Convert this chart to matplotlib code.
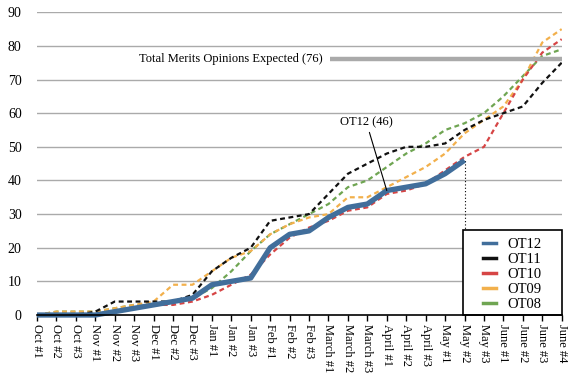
import matplotlib
matplotlib.use("Agg")
import matplotlib.pyplot as plt
from matplotlib.patches import Rectangle
from matplotlib.lines import Line2D

plt.rcParams['font.family'] = ['Liberation Serif', 'DejaVu Serif']

categories = ["Oct #1", "Oct #2", "Oct #3", "Nov #1", "Nov #2", "Nov #3",
              "Dec #1", "Dec #2", "Dec #3", "Jan #1", "Jan #2", "Jan #3",
              "Feb #1", "Feb #2", "Feb #3", "March #1", "March #2", "March #3",
              "April #1", "April #2", "April #3", "May #1", "May #2", "May #3",
              "June #1", "June #2", "June #3", "June #4"]

ot12 = [0, 0, 0, 0, 1, 2, 3, 4, 5, 9, 10, 11, 20, 24, 25, 29, 32, 33, 37, 38, 39, 42, 46]
ot11 = [0, 0, 0, 1, 4, 4, 4, 4, 6, 13, 17, 20, 28, 29, 30, 36, 42, 45, 48, 50, 50, 51, 55, 58, 60, 62, 69, 75]
ot10 = [0, 0, 0, 0, 1, 2, 3, 3, 4, 6, 9, 12, 18, 23, 26, 28, 31, 32, 36, 37, 39, 43, 47, 50, 60, 70, 78, 82]
ot09 = [0, 1, 1, 1, 2, 3, 4, 9, 9, 13, 17, 19, 24, 27, 29, 30, 35, 35, 38, 41, 44, 48, 54, 58, 62, 70, 81, 85]
ot08 = [0, 1, 1, 1, 2, 3, 3, 4, 5, 8, 13, 19, 24, 27, 30, 33, 38, 40, 44, 48, 51, 55, 57, 60, 65, 71, 77, 79]

series_names = ["OT12", "OT11", "OT10", "OT09", "OT08"]
colors = ["#416e9b", "#111111", "#d64545", "#f2b04c", "#6fa552"]

expected_total = 76
current_total = 46
y_ticks = [0, 10, 20, 30, 40, 50, 60, 70, 80, 90]

fig = plt.figure(figsize=(5.8, 3.9), dpi=100)
ax = fig.add_axes([0.0638, 0.1923, 0.9046, 0.7762])

x_all = list(range(len(categories)))

for ys in y_ticks[1:]:
    ax.axhline(ys, color="#aaaaaa", lw=1.0, zorder=1)

dash = (2.2, 1.6)
ax.plot(x_all, ot08, color=colors[4], lw=1.6, dashes=dash, zorder=2)
ax.plot(x_all, ot09, color=colors[3], lw=1.6, dashes=dash, zorder=2.1)
ax.plot(x_all, ot10, color=colors[2], lw=1.6, dashes=dash, zorder=2.2)
ax.plot(x_all, ot11, color=colors[1], lw=1.6, dashes=dash, zorder=2.3)
ax.plot(x_all[:len(ot12)], ot12, color=colors[0], lw=3.8, zorder=3,
        solid_joinstyle='round', solid_capstyle='butt', clip_on=False)

# expected total line
ax.plot([15.08, 27], [expected_total, expected_total], color="#aaaaaa", lw=3.2, zorder=2.5,
        solid_capstyle='butt')
ax.text(14.72, expected_total, "Total Merits Opinions Expected (%d)" % expected_total,
        ha="right", va="center", fontsize=9)

# dotted vertical at current point
last = len(ot12) - 1
ax.plot([last, last], [0, ot12[-1]], color="black", lw=0.8, ls=(0, (1, 2)), zorder=2.4)

ax.annotate("OT12 (%d)" % current_total, xy=(18, 37), xytext=(16.95, 57.3),
            ha="center", va="center", fontsize=9,
            arrowprops=dict(arrowstyle="-", color="black", lw=0.8, shrinkA=1, shrinkB=0))

ax.set_xlim(0, 27)
ax.set_ylim(0, 90)
ax.set_xticks(x_all)
ax.set_xticklabels(categories, rotation=-90, fontsize=9, va="top", ha="center")
ax.set_yticks(y_ticks)
ax.set_yticklabels([str(v) for v in y_ticks], fontsize=10)
ax.tick_params(axis="y", length=0, pad=11)
ax.tick_params(axis="x", length=4.5, width=1, direction="out", pad=2, color="black")
for s in ["top", "right", "left"]:
    ax.spines[s].set_visible(False)
ax.spines["bottom"].set_color("black")
ax.spines["bottom"].set_linewidth(1.2)
ax.spines["bottom"].set_zorder(6)

# legend box
rect = Rectangle((0.8125, 0.0), 0.1875, 0.281, transform=ax.transAxes,
                 facecolor="white", edgecolor="black", lw=1.2, zorder=4.5, clip_on=False)
ax.add_patch(rect)
handles = [Line2D([0], [0], color=c, lw=2.5) for c in colors]
leg = ax.legend(handles, series_names, loc="center", bbox_to_anchor=(0.906, 0.1345),
                frameon=False, fontsize=10.5, handlelength=0.9, handletextpad=0.8,
                labelspacing=0.12, borderpad=0)
leg.set_zorder(5)

fig.savefig("out.png", dpi=100)
